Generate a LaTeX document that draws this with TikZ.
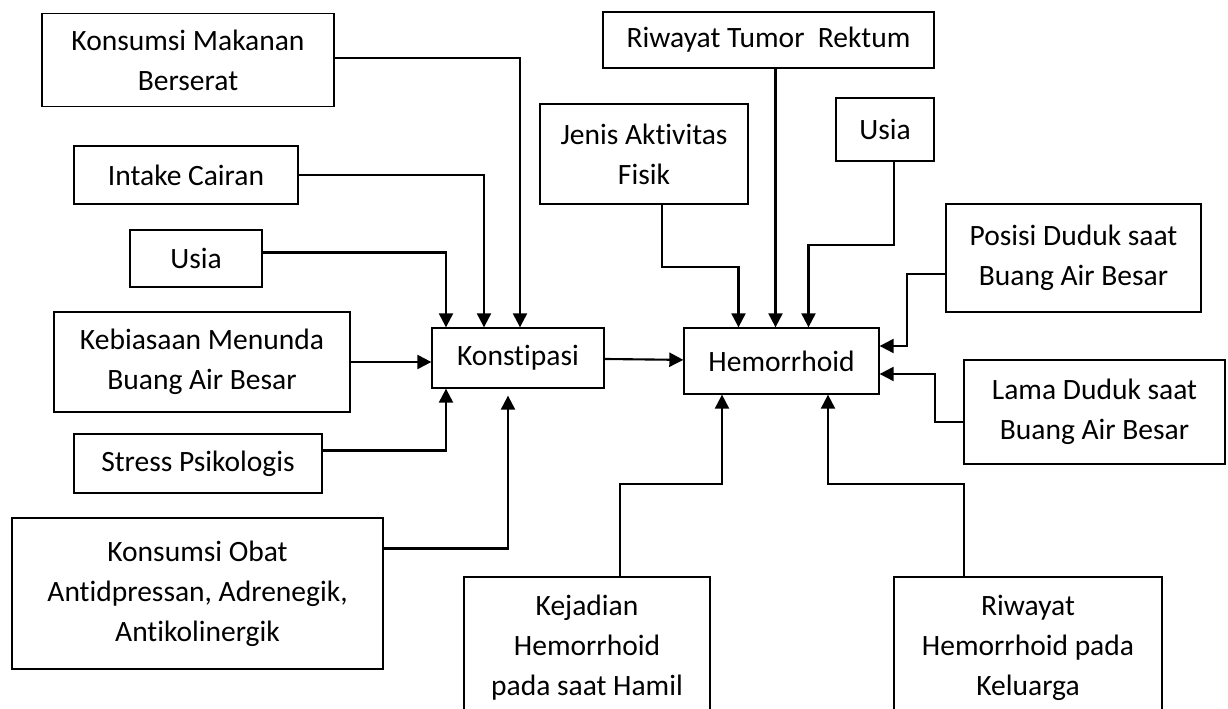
\documentclass[tikz,border=0pt]{standalone}
\usepackage{fontspec}
\setmainfont{Carlito}[Ligatures={NoCommon}]
\usetikzlibrary{positioning,arrows.meta,calc}

\begin{document}
\begin{tikzpicture}[x=0.02cm, y=-0.02cm,
  font=\fontsize{16.8}{22.7}\selectfont,
  kotak/.style={draw, line width=0.75pt, align=center, inner sep=2pt},
  panah/.style={line width=1.2pt, -{Triangle[length=8pt,width=8pt]}}]
\useasboundingbox (0,0) rectangle (1228,709);
% faktor konstipasi (kiri)
\node[kotak, minimum width=5.84cm, minimum height=1.86cm] (kmb) at (188,60) {Konsumsi Makanan\\Berserat};
\node[kotak, minimum width=4.48cm, minimum height=1.16cm] (ic) at (186,175) {Intake Cairan};
\node[kotak, minimum width=2.64cm, minimum height=1.14cm] (usia1) at (196,258.5) {Usia};
\node[kotak, minimum width=5.92cm, minimum height=2.0cm] (kbab) at (202,362) {Kebiasaan Menunda\\Buang Air Besar};
\node[kotak, minimum width=4.96cm, minimum height=1.18cm] (sp) at (198,463.5) {Stress Psikologis};
\node[kotak, minimum width=7.42cm, minimum height=3.02cm] (ko) at (197.5,593.5) {Konsumsi Obat\\Antidpressan, Adrenegik,\\Antikolinergik};
% dua variabel tengah
\node[kotak, minimum width=3.44cm, minimum height=1.2cm] (kons) at (518,358) {Konstipasi};
\node[kotak, minimum width=3.9cm, minimum height=1.32cm] (hem) at (781.5,361) {Hemorrhoid};
% faktor hemorrhoid
\node[kotak, minimum width=6.62cm, minimum height=1.12cm] (rtr) at (768.5,40) {Riwayat Tumor\ \ Rektum};
\node[kotak, minimum width=4.16cm, minimum height=2.0cm] (jaf) at (644,154) {Jenis Aktivitas\\Fisik};
\node[kotak, minimum width=1.96cm, minimum height=1.26cm] (usia2) at (885,129.5) {Usia};
\node[kotak, minimum width=5.10cm, minimum height=2.16cm] (pdb) at (1073.5,258) {Posisi Duduk saat\\Buang Air Besar};
\node[kotak, minimum width=5.22cm, minimum height=2.08cm] (ldb) at (1094.5,412) {Lama Duduk saat\\Buang Air Besar};
\node[kotak, minimum width=4.92cm, minimum height=2.84cm] (kh) at (587,648) {Kejadian\\Hemorrhoid\\pada saat Hamil};
\node[kotak, minimum width=5.36cm, minimum height=2.84cm] (rhk) at (1028,648) {Riwayat\\Hemorrhoid pada\\Keluarga};

% panah ke konstipasi
\draw[panah] ($(kmb.east)+(0,-2)$) -| ($(kons.north)+(2,0)$);
\draw[panah] (ic.east) -| ($(kons.north)+(-34,0)$);
\draw[panah] ($(usia1.east)+(0,-6)$) -| ($(kons.north)+(-72,0)$);
\draw[panah] (kbab.east) -- (kbab.east -| kons.west);
\draw[panah] ($(sp.east)+(0,-13)$) -| ($(kons.south)+(-72,0)$);
\draw[panah] ($(ko.east)+(0,-45)$) -| ($(kons.south)+(-10,7)$);
\draw[panah] (kons) -- (hem);
% panah ke hemorrhoid
\coordinate (hn1) at ($(hem.north)+(-43,0)$);
\coordinate (hn2) at ($(hem.north)+(-6,0)$);
\coordinate (hn3) at ($(hem.north)+(27,0)$);
\draw[panah] ($(jaf.south)+(18,0)$) -- ++(0,62) -| (hn1);
\draw[panah] (rtr.south -| hn2) -- (hn2);
\draw[panah] ($(usia2.south)+(9,0)$) -- ++(0,83) -| (hn3);
\draw[panah] ($(pdb.west)+(0,16)$) -| ($(hem.east)+(27,-15)$) -- ($(hem.east)+(0,-15)$);
\draw[panah] ($(ldb.west)+(0,10)$) -| ($(hem.east)+(55,13)$) -- ($(hem.east)+(0,13)$);
\draw[panah] ($(kh.north)+(33,0)$) -- ++(0,-92) -| ($(hem.south)+(-59.5,0)$);
\draw[panah] ($(rhk.north)+(-64,0)$) -- ++(0,-92) -| ($(hem.south)+(46.5,0)$);
\end{tikzpicture}
\end{document}
